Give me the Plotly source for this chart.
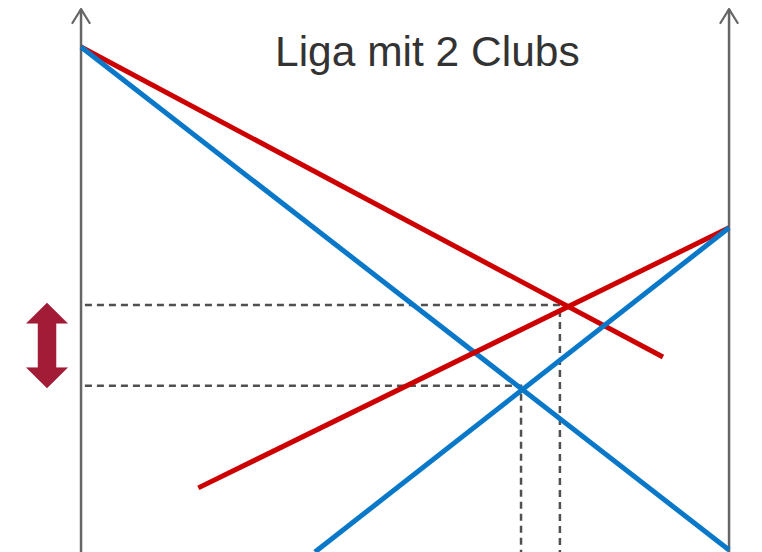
import plotly.graph_objects as go

# --- data (in chart units: left axis x=0, right axis x=10, bottom y=0) ---
red_down_x = [0.0, 8.98]
red_down_y = [10.0, 3.86]
blue_down_x = [0.0, 10.0]
blue_down_y = [10.0, 0.04]
red_up_x = [1.81, 10.0]
red_up_y = [1.27, 6.42]
blue_up_x = [3.61, 10.0]
blue_up_y = [0.0, 6.42]

guide_x = [7.39, 6.79]     # dashed verticals
guide_y = [4.89, 3.29]     # dashed horizontals

axis_x = [0.0, 10.0]
axis_top = 10.75
title_text = "Liga mit 2 Clubs"

RED = "#CC0000"
BLUE = "#0A78C8"
GREY = "#666666"
DASH = "#505050"
CRIMSON = "#A31C37"

fig = go.Figure()

# vertical axes with open arrowheads
for ax in axis_x:
    fig.add_trace(go.Scatter(x=[ax, ax], y=[-0.3, axis_top], mode="lines",
                             line=dict(color=GREY, width=2.5), hoverinfo="skip"))
    fig.add_trace(go.Scatter(x=[ax - 0.14, ax, ax + 0.14],
                             y=[axis_top - 0.29, axis_top, axis_top - 0.29],
                             mode="lines", line=dict(color=GREY, width=2.2),
                             hoverinfo="skip"))

# dashed guide lines
for gx, gy in zip(guide_x, guide_y):
    fig.add_trace(go.Scatter(x=[0.06, gx, gx], y=[gy, gy, -0.3], mode="lines",
                             line=dict(color=DASH, width=2.5, dash="7px,5px"),
                             hoverinfo="skip"))

# curves
for xs, ys, c in [(red_down_x, red_down_y, RED), (blue_down_x, blue_down_y, BLUE),
                  (red_up_x, red_up_y, RED), (blue_up_x, blue_up_y, BLUE)]:
    fig.add_trace(go.Scatter(x=xs, y=ys, mode="lines",
                             line=dict(color=c, width=5), hoverinfo="skip"))

# double-headed arrow between the two guide levels
cx = -0.525
top = guide_y[0] + 0.04
bot = guide_y[1] - 0.04
hw, sw, hh = 0.316, 0.139, 0.40
ax_pts = [cx, cx + hw, cx + sw, cx + sw, cx + hw, cx, cx - hw, cx - sw, cx - sw, cx - hw, cx]
ay_pts = [top, top - hh, top - hh, bot + hh, bot + hh, bot, bot + hh, bot + hh, top - hh, top - hh, top]
fig.add_trace(go.Scatter(x=ax_pts, y=ay_pts, mode="lines", fill="toself",
                         fillcolor=CRIMSON, line=dict(color=CRIMSON, width=0.5),
                         hoverinfo="skip"))

fig.add_annotation(x=5.34, y=9.92, text=title_text, showarrow=False,
                   font=dict(family="Liberation Sans, Arial, sans-serif", size=42.5,
                             color="#333333"),
                   xanchor="center", yanchor="middle")

# page body has an 8px margin; ranges compensate so marks land where intended
fig.update_layout(
    width=762, height=552,
    margin=dict(l=0, r=0, t=0, b=0),
    paper_bgcolor="white", plot_bgcolor="white",
    showlegend=False,
    xaxis=dict(range=[-1.127, 10.632], visible=False, fixedrange=True),
    yaxis=dict(range=[-0.158, 10.772], visible=False, fixedrange=True),
)

fig.write_html("out.html")
